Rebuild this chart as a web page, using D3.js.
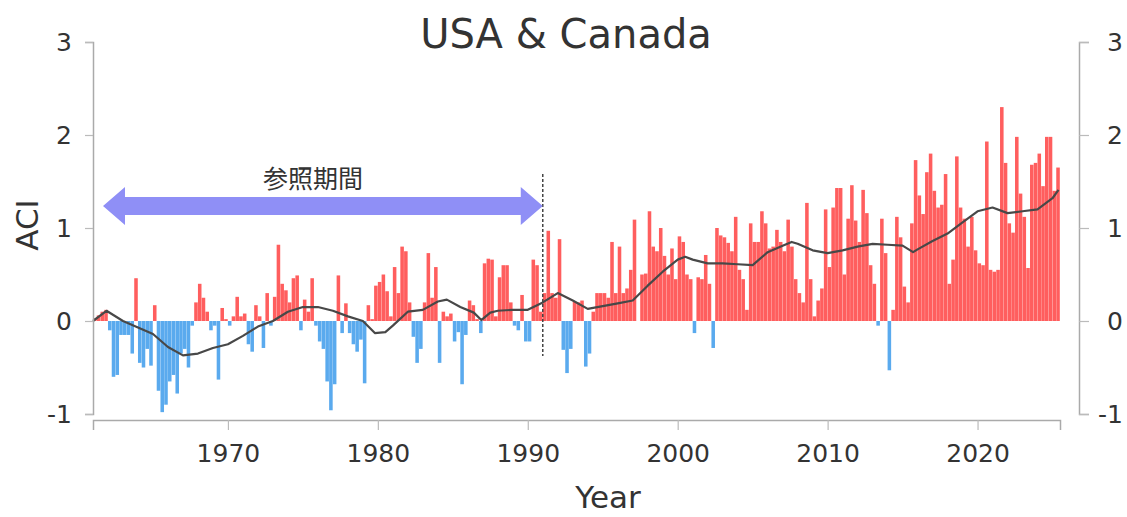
<!DOCTYPE html>
<html>
<head>
<meta charset="utf-8">
<script src="https://cdn.jsdelivr.net/npm/d3@7"></script>
<style>
  body { margin: 0; background: #fff; }
  svg { display: block; }
  text { font-family: "DejaVu Sans", sans-serif; fill: #333; }
</style>
</head>
<body>
<div id="chart"></div>
<script>
// seasonal ACI values (4 per year, starting 1961)
var startYear = 1961
var aci = [
   0.03,  0.06,  0.10,  0.12,   // 1961
  -0.10, -0.60, -0.58, -0.15,   // 1962
  -0.15, -0.15, -0.35,  0.46,   // 1963
  -0.45, -0.50, -0.30, -0.48,   // 1964
   0.17, -0.75, -0.98, -0.90,   // 1965
  -0.65, -0.58, -0.78, -0.35,   // 1966
  -0.30, -0.50, -0.05,  0.20,   // 1967
   0.40,  0.25,  0.10, -0.10,   // 1968
  -0.05, -0.63,  0.14,  0.02,   // 1969
  -0.05,  0.05,  0.26,  0.05,   // 1970
   0.08, -0.25, -0.33,  0.17,   // 1971
   0.05, -0.29,  0.30, -0.05,   // 1972
   0.26,  0.82,  0.40,  0.33,   // 1973
   0.20,  0.46,  0.49, -0.10,   // 1974
   0.23,  0.10,  0.46, -0.05,   // 1975
  -0.22, -0.30, -0.65, -0.96,   // 1976
  -0.68,  0.49, -0.13,  0.19,   // 1977
  -0.13, -0.25, -0.33, -0.20,   // 1978
  -0.67,  0.17,  0.02,  0.38,   // 1979
   0.42,  0.50,  0.32,  0.05,   // 1980
   0.58,  0.30,  0.80,  0.75,   // 1981
   0.20, -0.17, -0.45, -0.30,   // 1982
   0.20,  0.73,  0.25,  0.58,   // 1983
  -0.45,  0.10,  0.05,  0.08,   // 1984
  -0.22, -0.12, -0.68, -0.15,   // 1985
   0.22,  0.17,  0.02, -0.13,   // 1986
   0.62,  0.67,  0.66,  0.05,   // 1987
   0.47,  0.60,  0.60,  0.20,   // 1988
  -0.05, -0.10,  0.28, -0.22,   // 1989
  -0.22,  0.66,  0.60,  0.10,   // 1990
   0.30,  0.97,  0.30,  0.25,   // 1991
   0.88, -0.31, -0.56, -0.30,   // 1992
   0.21,  0.20,  0.22, -0.49,   // 1993
  -0.35,  0.10,  0.30,  0.30,   // 1994
   0.30,  0.25,  0.85,  0.30,   // 1995
   0.80,  0.30,  0.35,  0.55,   // 1996
   1.09,  0.00,  0.50,  0.51,   // 1997
   1.18,  0.80,  0.75,  1.00,   // 1998
   0.70,  0.50,  0.78,  0.45,   // 1999
   0.91,  0.85,  0.50,  0.45,   // 2000
  -0.13,  0.47,  0.45,  0.71,   // 2001
   0.40, -0.29,  1.00,  0.92,   // 2002
   0.90,  0.84,  0.75,  1.12,   // 2003
   0.55,  0.45,  0.12,  1.05,   // 2004
   0.85,  0.85,  1.18,  1.05,   // 2005
   0.78,  0.80,  0.98,  0.85,   // 2006
   0.75,  1.09,  0.80,  0.45,   // 2007
   0.30,  0.20,  1.27,  0.45,   // 2008
   0.05,  0.22,  0.35,  1.20,   // 2009
   0.58,  1.22,  1.43,  1.43,   // 2010
   0.50,  1.10,  1.46,  1.08,   // 2011
   0.85,  1.41,  1.16,  0.60,   // 2012
   0.40, -0.05,  1.10,  0.73,   // 2013
  -0.53,  0.12,  1.12,  0.90,   // 2014
   0.37,  0.20,  1.05,  1.73,   // 2015
   1.35,  1.15,  1.60,  1.80,   // 2016
   1.40,  1.22,  1.25,  1.58,   // 2017
   0.40,  0.66,  1.77,  1.22,   // 2018
   1.10,  0.80,  1.12,  0.76,   // 2019
   0.62,  0.60,  1.93,  0.55,   // 2020
   0.53,  0.55,  2.30,  1.70,   // 2021
   1.05,  0.95,  1.98,  1.37,   // 2022
   1.12,  0.57,  1.68,  1.70,   // 2023
   1.80,  1.45,  1.98,  1.98,   // 2024
   1.40,  1.65                  // 2025
]

// smoothed line, read at yearly points
var smoothYears = [1961, 1961.9, 1963, 1964, 1965, 1966, 1967, 1968, 1969, 1970,
  1971, 1972, 1973, 1974, 1975, 1976, 1977, 1978, 1979, 1979.8, 1980.5, 1981,
  1982, 1983, 1984, 1984.6, 1985.5, 1986.4, 1986.9, 1987.5, 1988, 1989, 1990,
  1991, 1992, 1993, 1994, 1995, 1996, 1997, 1998, 1999, 2000, 2000.5, 2001,
  2002, 2003, 2004, 2005, 2006, 2007, 2007.6, 2008, 2009, 2010, 2011, 2012,
  2013, 2014, 2015, 2015.7, 2016, 2017, 2018, 2019, 2020, 2021, 2022, 2023,
  2024, 2025, 2025.4]
var smoothValues = [0.0, 0.11, 0.0, -0.07, -0.14, -0.28, -0.37, -0.35, -0.29, -0.25,
  -0.16, -0.06, 0.0, 0.10, 0.15, 0.15, 0.11, 0.05, 0.0, -0.13, -0.12, -0.05,
  0.10, 0.12, 0.21, 0.23, 0.15, 0.09, 0.01, 0.09, 0.11, 0.12, 0.12,
  0.20, 0.30, 0.22, 0.13, 0.16, 0.19, 0.22, 0.38, 0.53, 0.66, 0.69, 0.66,
  0.62, 0.62, 0.61, 0.60, 0.74, 0.81, 0.85, 0.83, 0.76, 0.73, 0.76, 0.80,
  0.83, 0.82, 0.81, 0.74, 0.77, 0.86, 0.94, 1.06, 1.18, 1.22, 1.16, 1.18,
  1.20, 1.32, 1.41]

var xTicks = [1970, 1980, 1990, 2000, 2010, 2020]
var yTicks = [-1, 0, 1, 2, 3]
var refStart = 1961, refEnd = 1991
var refLabel = "参照期間"

var width = 1127, height = 517

var svg = d3.select("#chart").append("svg")
    .attr("width", width)
    .attr("height", height)

var x = d3.scaleLinear().domain([1961, 2025.5]).range([93, 1060])
var y = d3.scaleLinear().domain([-1, 3]).range([414, 42])

var bars = aci.map((v, i) => ({t: startYear + i / 4, v: v}))

// bars
svg.append("g").selectAll("rect").data(bars).enter().append("rect")
    .attr("x", d => x(d.t))
    .attr("width", d => x(d.t + 0.25) - x(d.t) - 0.2)
    .attr("y", d => d.v >= 0 ? y(d.v) : y(0))
    .attr("height", d => Math.abs(y(d.v) - y(0)))
    .attr("fill", d => d.v >= 0 ? "#ff5e5e" : "#5aaaee")

// smoothed line
var line = d3.line().x(d => x(d[0])).y(d => y(d[1]))
svg.append("path")
    .datum(smoothYears.map((t, i) => [t, smoothValues[i]]))
    .attr("d", line)
    .attr("fill", "none")
    .attr("stroke", "#484848")
    .attr("stroke-width", 2.2)
    .attr("stroke-linejoin", "round")

// reference period marker
svg.append("line")
    .attr("x1", x(refEnd)).attr("x2", x(refEnd))
    .attr("y1", 174).attr("y2", 356)
    .attr("stroke", "#444")
    .attr("stroke-width", 1.5)
    .attr("stroke-dasharray", "3,2")

var ay = 206, x0 = x(refStart) + 10, x1 = x(refEnd), hw = 9, hh = 19, hl = 22
svg.append("path")
    .attr("d", `M${x0},${ay} L${x0 + hl},${ay - hh} L${x0 + hl},${ay - hw} L${x1 - hl},${ay - hw}
      L${x1 - hl},${ay - hh} L${x1},${ay} L${x1 - hl},${ay + hh} L${x1 - hl},${ay + hw}
      L${x0 + hl},${ay + hw} L${x0 + hl},${ay + hh} Z`)
    .attr("fill", "#8f8ff6")

svg.append("text")
    .attr("x", 313).attr("y", 188)
    .attr("text-anchor", "middle")
    .style("font-family", "'Noto Sans CJK JP', sans-serif")
    .style("font-size", "25px")
    .text(refLabel)

// axes
var intFormat = d => String(d)

function styleAxis(g) {
    g.select(".domain").attr("stroke", "#aaa").attr("stroke-width", 1.5)
    g.selectAll(".tick line").attr("stroke", "#bbb").attr("stroke-width", 1.2)
    g.selectAll(".tick text").attr("fill", "#333").style("font-size", "25px")
        .style("font-family", "'DejaVu Sans', sans-serif")
}

svg.append("g")
    .attr("transform", "translate(0,420)")
    .call(d3.axisBottom(x).tickValues(xTicks).tickFormat(intFormat)
        .tickSize(10).tickSizeOuter(10).tickPadding(14))
    .call(styleAxis)

svg.append("g")
    .attr("transform", "translate(93,0)")
    .call(d3.axisLeft(y).tickValues(yTicks).tickFormat(intFormat)
        .tickSize(8).tickSizeOuter(8).tickPadding(13))
    .call(styleAxis)

svg.append("g")
    .attr("transform", "translate(1079,0)")
    .call(d3.axisRight(y).tickValues(yTicks).tickFormat(intFormat)
        .tickSize(10).tickSizeOuter(10))
    .call(styleAxis)
    .selectAll(".tick text").attr("text-anchor", "end").attr("x", 44)

// titles
svg.append("text")
    .attr("x", 566).attr("y", 48)
    .attr("text-anchor", "middle")
    .style("font-size", "40px")
    .attr("fill", "#222")
    .text("USA & Canada")

svg.append("text")
    .attr("transform", "translate(38,225) rotate(-90)")
    .attr("text-anchor", "middle")
    .style("font-size", "31px")
    .text("ACI")

svg.append("text")
    .attr("x", 608).attr("y", 508)
    .attr("text-anchor", "middle")
    .style("font-size", "31px")
    .text("Year")
</script>
</body>
</html>
